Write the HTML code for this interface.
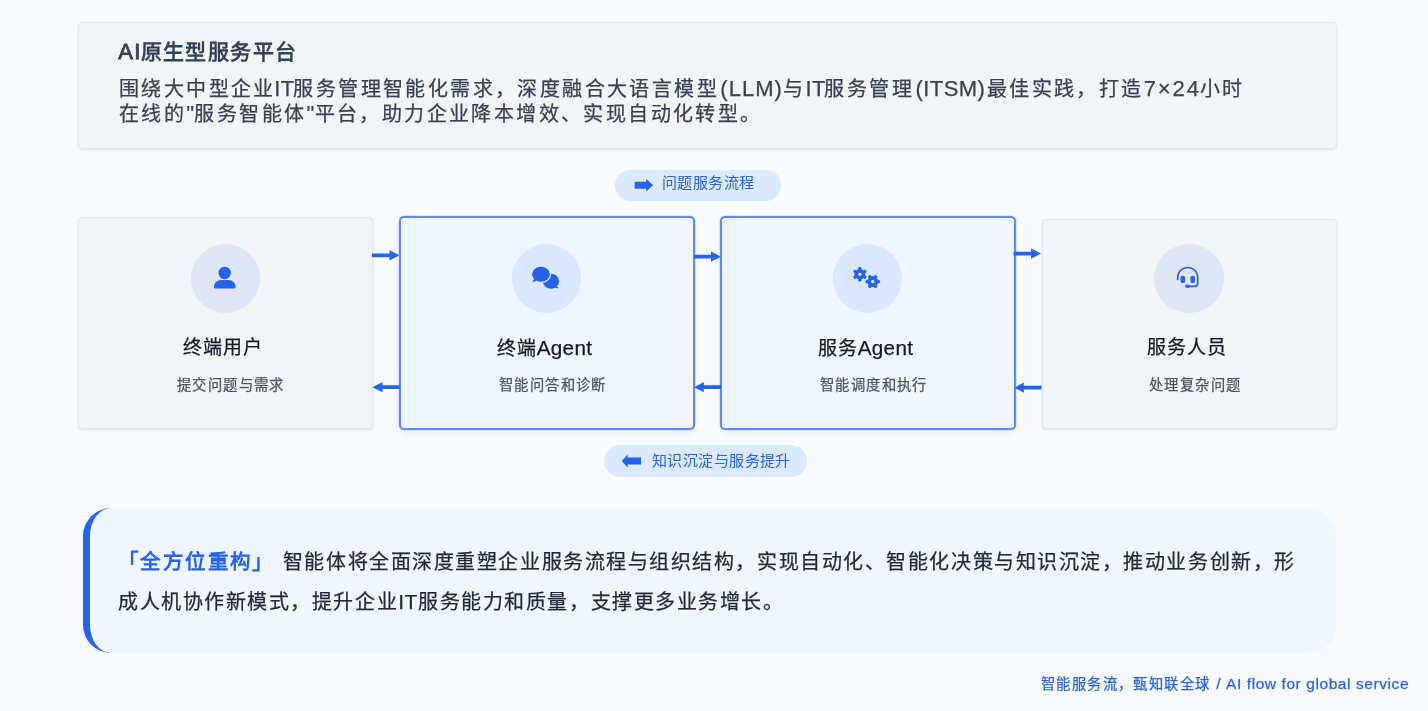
<!DOCTYPE html>
<html lang="zh-CN">
<head>
<meta charset="utf-8">
<title>AI原生型服务平台</title>
<style>
  html, body { margin: 0; padding: 0; }
  body {
    width: 1428px; height: 711px; overflow: hidden; position: relative;
    background: #f9fafb;
    font-family: "Liberation Sans", sans-serif;
    color: #374151;
  }
  .abs { position: absolute; box-sizing: border-box; }
  h1, p, .ttl, .sub, .pill span, #footer { will-change: transform; }
  #intro p, #callout p, .ttl, .sub, #footer { -webkit-text-stroke: 0.25px currentColor; }
  #callout strong { -webkit-text-stroke: 0; }

  /* top intro card */
  #intro {
    left: 78px; top: 21.5px; width: 1258.5px; height: 127.5px;
    background: #f3f4f6; border: 1px solid #e5e7eb; border-radius: 5px;
    box-shadow: 0 1px 3px rgba(0,0,0,0.08), 0 1px 2px rgba(0,0,0,0.04);
  }
  #intro h1 {
    position: absolute; left: 39px; top: 15.5px; margin: 0;
    font-size: 21px; line-height: 28px; font-weight: 700; color: #334155;
    letter-spacing: 1.4px; white-space: nowrap;
  }
  #intro h1 .l { display: inline-block; width: 22.7px; font-size: 22px; font-weight: 400; -webkit-text-stroke: 0.8px currentColor; letter-spacing: 1.2px; position: relative; top: 0.4px; left: 0.3px; white-space: nowrap; line-height: 20px; }
  #intro p {
    position: absolute; left: 40px; top: 54.5px; margin: 0; width: 1200px;
    font-size: 20px; line-height: 24.6px; color: #374151; letter-spacing: 2.4px; white-space: nowrap;
  }
  #intro p .l { font-size: 22px; letter-spacing: 0.4px; }

  /* pills */
  .pill {
    background: #dbeafe; border-radius: 16px; color: #2563eb;
    font-size: 15px; letter-spacing: 0.42px; font-weight: 500; line-height: 31px; white-space: nowrap;
  }
  #pill1 { left: 615px; top: 170px; width: 166px; height: 31px; }
  #pill2 { left: 603.5px; top: 445px; width: 203px; height: 32px; }
  .pill svg { position: absolute; }
  .pill span { position: absolute; top: 0; }

  /* cards */
  .card { border-radius: 5px; text-align: center; }
  .card.grey { border-radius: 4px; }
  .card.grey {
    background: #f3f4f6; border: 1px solid #e5e7eb;
    box-shadow: 0 1px 3px rgba(0,0,0,0.08), 0 1px 2px rgba(0,0,0,0.04);
  }
  .card.blue {
    background: #eff6ff; border: 2px solid #5b8def;
    box-shadow: 0 0 0 0.5px rgba(91,141,239,0.35), 0 4px 8px rgba(0,0,0,0.05);
  }
  #c1 { left: 77.5px; top: 217px; width: 295px; height: 211.5px; }
  #c2 { left: 399px; top: 216px; width: 295.5px; height: 213.5px; }
  #c3 { left: 720px; top: 216px; width: 295.5px; height: 213.5px; }
  #c4 { left: 1041.5px; top: 219px; width: 295px; height: 209.5px; }

  .ico { width: 69.4px; height: 69.4px; border-radius: 50%; background: rgba(37,99,235,0.10); }
  .ttl { font-size: 19px; letter-spacing: 0.85px; line-height: 26px; color: #111827; white-space: nowrap; }
  .ttl .l { font-size: 20.7px; letter-spacing: 0.3px; }
  .sub { font-size: 14.3px; letter-spacing: 1.4px; line-height: 20px; color: #4b5563; white-space: nowrap; }

  /* callout */
  #callout {
    left: 83px; top: 508px; width: 1253px; height: 145px;
    background: #eff6ff; border-left: 7px solid #2563eb; border-radius: 28px;
  }
  #callout p {
    position: absolute; left: 28px; top: 34px; margin: 0; width: 1215px; white-space: nowrap;
    font-size: 20px; line-height: 39.4px; color: #1f2937; letter-spacing: 1.55px;
  }
  #callout strong { color: #2563eb; font-weight: 700; font-size: 20.5px; letter-spacing: 2.4px; margin-right: 8.1px; }
  #callout .l { display: inline-block; width: 20px; font-size: 21px; letter-spacing: 0.4px; }

  #footer {
    left: 1041.1px; top: 674px; font-size: 14.3px; letter-spacing: 1.4px; line-height: 20px; color: #2563eb; white-space: nowrap;
  }
  #footer .l { font-size: 15.5px; letter-spacing: 0.58px; margin-left: 1px; }
</style>
</head>
<body>

<div id="intro" class="abs">
  <h1><span class="l">AI</span>原生型服务平台</h1>
  <p>围绕大中型企业<span class="l" style="margin-left:-1.7px;margin-right:-1px">IT</span>服务管理智能化需求，深度融合大语言模型<span class="l" style="margin-left:1.2px;letter-spacing:1.05px">(LLM)</span>与<span class="l" style="margin-right:-1.3px">IT</span>服务管理<span class="l" style="margin-left:1.5px;margin-right:1.7px">(ITSM)</span>最佳实践，打造<span class="l" style="letter-spacing:1.93px;margin-right:-0.9px">7×24</span>小时<br>在线的<span class="l">"</span>服务智能体<span class="l">"</span>平台，助力企业降本增效、实现自动化转型。</p>
</div>

<div id="pill1" class="abs pill">
  <svg width="20" height="14" viewBox="0 0 20 14" style="left:19px;top:8.4px"><path d="M0.7 3.7 H12.2 V0.9 L19.2 7.2 L12.2 13.5 V10.7 H0.7 Z" fill="#2563eb"/></svg>
  <span id="p1t" style="left:46.6px;top:-2.7px">问题服务流程</span>
</div>

<div id="pill2" class="abs pill">
  <svg width="21" height="14" viewBox="0 0 21 14" style="left:17.2px;top:8.9px"><path d="M20 3.5 H6.7 V0.6 L0.7 7 L6.7 13.4 V10.5 H20 Z" fill="#2563eb"/></svg>
  <span id="p2t" style="left:48px;top:0px">知识沉淀与服务提升</span>
</div>

<div id="c1" class="abs card grey"></div>
<div id="c2" class="abs card blue"></div>
<div id="c3" class="abs card blue"></div>
<div id="c4" class="abs card grey"></div>

<!-- icon circles -->
<div class="abs ico" style="left:190.8px;top:243.9px"></div>
<div class="abs ico" style="left:512px;top:243.9px"></div>
<div class="abs ico" style="left:832.8px;top:243.9px"></div>
<div class="abs ico" style="left:1154.2px;top:243.9px"></div>

<!-- titles -->
<div id="t1" class="abs ttl" style="left:183.2px;top:335px">终端用户</div>
<div id="t2" class="abs ttl" style="left:496.6px;top:335px">终端<span class="l">Agent</span></div>
<div id="t3" class="abs ttl" style="left:818.1px;top:335px">服务<span class="l">Agent</span></div>
<div id="t4" class="abs ttl" style="left:1147.2px;top:335px">服务人员</div>

<div id="s1" class="abs sub" style="left:177px;top:375px">提交问题与需求</div>
<div id="s2" class="abs sub" style="left:499px;top:375px">智能问答和诊断</div>
<div id="s3" class="abs sub" style="left:820.2px;top:375px">智能调度和执行</div>
<div id="s4" class="abs sub" style="left:1148.5px;top:375px">处理复杂问题</div>

<!-- overlay svg for arrows and icons -->
<svg class="abs" style="left:0;top:0" width="1428" height="711" viewBox="0 0 1428 711">
  <g fill="#2563eb">
    <!-- right arrows (top) -->
    <path d="M372 253.4 H389.5 V250.2 L399.5 255.3 L389.5 260.4 V257.2 H372 Z"/>
    <path d="M694 254.8 H711 V251.6 L721 256.7 L711 261.8 V258.6 H694 Z"/>
    <path d="M1013.5 251.7 H1031 V248.5 L1041 253.6 L1031 258.7 V255.5 H1013.5 Z"/>
    <!-- left arrows (bottom) -->
    <path d="M399.5 385.3 H382.5 V382.1 L372.5 387.2 L382.5 392.3 V389.1 H399.5 Z"/>
    <path d="M721 385.3 H703.8 V382.1 L694 387.2 L703.8 392.3 V389.1 H721 Z"/>
    <path d="M1041.5 385.8 H1023.8 V382.6 L1014.3 387.7 L1023.8 392.8 V389.6 H1041.5 Z"/>
  </g>

  <!-- user icon -->
  <g fill="#2563eb">
    <circle cx="224.7" cy="273" r="6.2"/>
    <path d="M214 287.2 C214 283 217 280 221 280 H228.5 C232.5 280 235.6 283 235.6 287.2 C235.6 288 235.1 288.4 234.4 288.4 H215.2 C214.5 288.4 214 288 214 287.2 Z"/>
  </g>

  <!-- chat icon -->
  <defs>
    <mask id="mk" maskUnits="userSpaceOnUse" x="520" y="260" width="60" height="40">
      <rect x="520" y="260" width="60" height="40" fill="#fff"/>
      <ellipse cx="541" cy="274.3" rx="10.1" ry="8.8" fill="#000"/>
    </mask>
  </defs>
  <g fill="#2563eb">
    <ellipse cx="541" cy="274.3" rx="8.9" ry="7.5"/>
    <path d="M534.2 279 L532 281.9 L537 280.9 Z"/>
    <g mask="url(#mk)">
      <ellipse cx="551" cy="281.2" rx="8.2" ry="7.5"/>
      <path d="M556 286 L559.2 288.3 L554 288 Z"/>
    </g>
  </g>

  <!-- gears icon -->
  <g id="gear" fill="#2563eb"><path fill-rule="evenodd" stroke="#2563eb" stroke-width="1.0" stroke-linejoin="round" d="M858.56 269.48 L858.77 267.60 L861.03 267.60 L861.24 269.48 L863.40 270.73 L865.14 269.97 L866.27 271.93 L864.74 273.06 L864.74 275.54 L866.27 276.67 L865.14 278.63 L863.40 277.87 L861.24 279.12 L861.03 281.00 L858.77 281.00 L858.56 279.12 L856.40 277.87 L854.66 278.63 L853.53 276.67 L855.06 275.54 L855.06 273.06 L853.53 271.93 L854.66 269.97 L856.40 270.73 Z M857.75 274.30 a2.15 2.15 0 1 0 4.30 0 a2.15 2.15 0 1 0 -4.30 0 Z"/><path fill-rule="evenodd" stroke="#2563eb" stroke-width="1.0" stroke-linejoin="round" d="M873.94 276.76 L875.07 275.23 L877.03 276.36 L876.27 278.10 L877.52 280.26 L879.40 280.47 L879.40 282.73 L877.52 282.94 L876.27 285.10 L877.03 286.84 L875.07 287.97 L873.94 286.44 L871.46 286.44 L870.33 287.97 L868.37 286.84 L869.13 285.10 L867.88 282.94 L866.00 282.73 L866.00 280.47 L867.88 280.26 L869.13 278.10 L868.37 276.36 L870.33 275.23 L871.46 276.76 Z M870.55 281.60 a2.15 2.15 0 1 0 4.30 0 a2.15 2.15 0 1 0 -4.30 0 Z"/></g>

  <!-- headset icon -->
  <g fill="none" stroke="#2563eb" stroke-width="1.7" stroke-linecap="round">
    <path d="M1177.7 279.5 V277.5 C1177.7 271.5 1182.3 267.5 1187.7 267.5 C1193.1 267.5 1197.7 271.5 1197.7 277.5 V283.5 C1197.7 285.5 1196.5 286.3 1194.5 286.3 H1189"/>
  </g>
  <g fill="#2563eb">
    <rect x="1180.5" y="275.7" width="4.6" height="7.4" rx="2.2"/>
    <rect x="1190.4" y="275.7" width="4.6" height="7.4" rx="2.2"/>
    <ellipse cx="1187.5" cy="286.3" rx="2.6" ry="1.7"/>
  </g>
</svg>

<div id="callout" class="abs">
  <p><strong>「全方位重构」</strong>智能体将全面深度重塑企业服务流程与组织结构，实现自动化、智能化决策与知识沉淀，推动业务创新，形<br>成人机协作新模式，提升企业<span class="l">IT</span>服务能力和质量，支撑更多业务增长。</p>
</div>

<div id="footer" class="abs">智能服务流，甄知联全球<span class="l"> / AI flow for global service</span></div>

</body>
</html>
